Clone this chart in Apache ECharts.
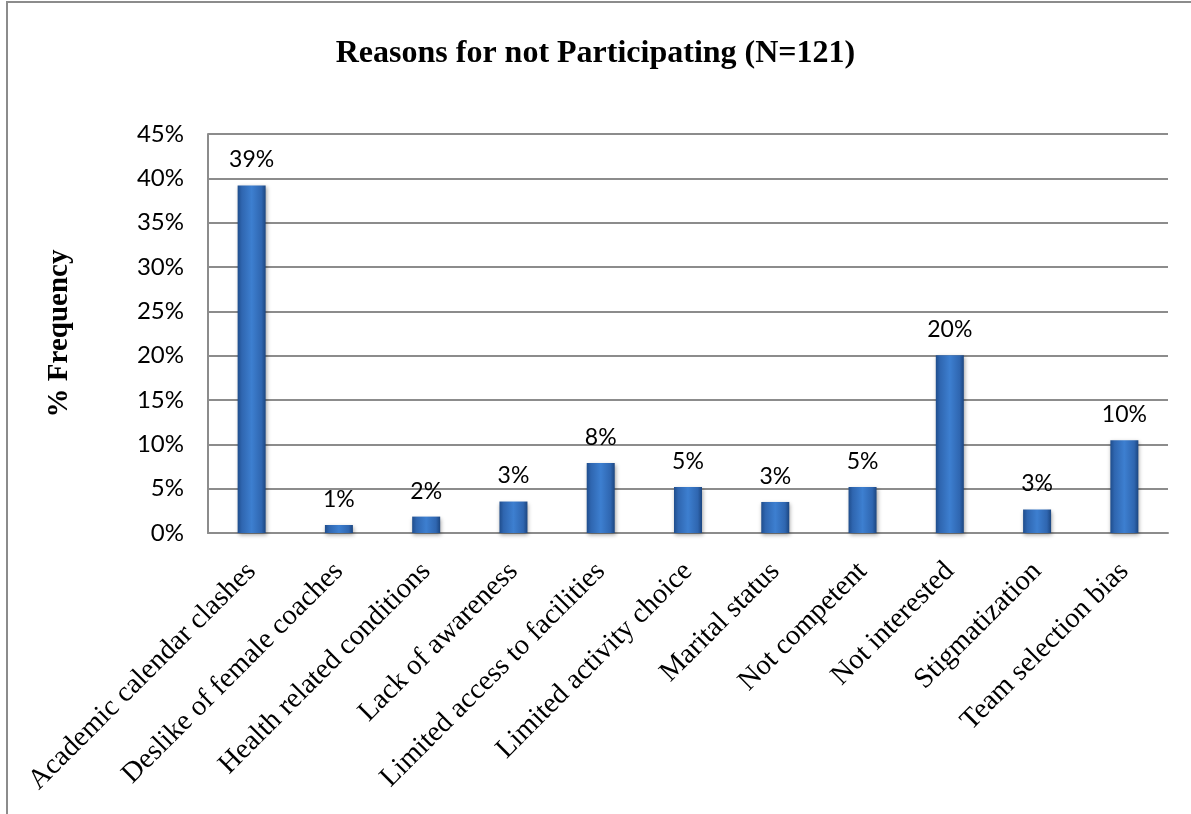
<!DOCTYPE html>
<html>
<head>
<meta charset="utf-8">
<script src="https://cdn.jsdelivr.net/npm/echarts@6/dist/echarts.min.js"></script>
<style>
html,body{margin:0;padding:0;background:#fff;}
#chart{width:1191px;height:814px;}
</style>
</head>
<body>
<div id="chart"></div>
<script>
const categories = [
  "Academic calendar clashes",
  "Deslike of female coaches",
  "Health related conditions",
  "Lack of awareness",
  "Limited access to facilities",
  "Limited activity choice",
  "Marital status",
  "Not competent",
  "Not interested",
  "Stigmatization",
  "Team selection bias"
];
const values = [39.2, 0.9, 1.85, 3.55, 7.9, 5.2, 3.5, 5.2, 20.05, 2.65, 10.45];
const valueLabels = ["39%", "1%", "2%", "3%", "8%", "5%", "3%", "5%", "20%", "3%", "10%"];
const yTicks = { min: 0, max: 45, interval: 5 };

const chart = echarts.init(document.getElementById('chart'), null, { renderer: 'canvas' });
chart.setOption({
  backgroundColor: '#ffffff',
  animation: false,
  title: {
    text: 'Reasons for not Participating (N=121)',
    left: 'center',
    top: 33,
    textStyle: { fontFamily: 'Liberation Serif', fontWeight: 'bold', fontSize: 32, color: '#000' }
  },
  graphic: [{
    type: 'rect',
    shape: { x: 7, y: 2, width: 1300, height: 900 },
    style: { fill: 'none', stroke: '#8c8c8c', lineWidth: 2 },
    silent: true
  }],
  grid: { left: 208, right: 23, top: 134, bottom: 281, containLabel: false },
  xAxis: {
    type: 'category',
    data: categories,
    axisLine: { lineStyle: { color: '#8c8c8c', width: 2 } },
    axisTick: { show: false },
    axisLabel: {
      rotate: 45,
      interval: 0,
      margin: 34,
      fontFamily: 'Liberation Serif',
      fontSize: 28.5,
      color: '#000'
    }
  },
  yAxis: {
    type: 'value',
    min: yTicks.min,
    max: yTicks.max,
    interval: yTicks.interval,
    name: '% Frequency',
    nameLocation: 'middle',
    nameGap: 134,
    nameTextStyle: { fontFamily: 'Liberation Serif', fontWeight: 'bold', fontSize: 29, color: '#000' },
    axisLine: { show: true, lineStyle: { color: '#8c8c8c', width: 2 } },
    axisTick: { show: false },
    splitLine: { lineStyle: { color: '#8c8c8c', width: 2 } },
    axisLabel: {
      formatter: '{value}%',
      margin: 24,
      fontFamily: 'Lato',
      fontSize: 24,
      color: '#000'
    }
  },
  series: [{
    type: 'bar',
    data: values,
    barWidth: 28,
    itemStyle: {
      color: {
        type: 'linear', x: 0, y: 0, x2: 1, y2: 0,
        colorStops: [
          { offset: 0, color: '#1f4d8c' },
          { offset: 0.15, color: '#2f66b0' },
          { offset: 0.5, color: '#3d7fd0' },
          { offset: 0.85, color: '#2f66b0' },
          { offset: 1, color: '#1c4680' }
        ]
      },
      shadowColor: 'rgba(0,0,0,0.35)',
      shadowBlur: 4,
      shadowOffsetX: 1,
      shadowOffsetY: 2
    },
    label: {
      show: true,
      position: 'top',
      distance: 14,
      formatter: p => valueLabels[p.dataIndex],
      fontFamily: 'Lato',
      fontSize: 23,
      color: '#000'
    }
  }]
});
</script>
</body>
</html>
